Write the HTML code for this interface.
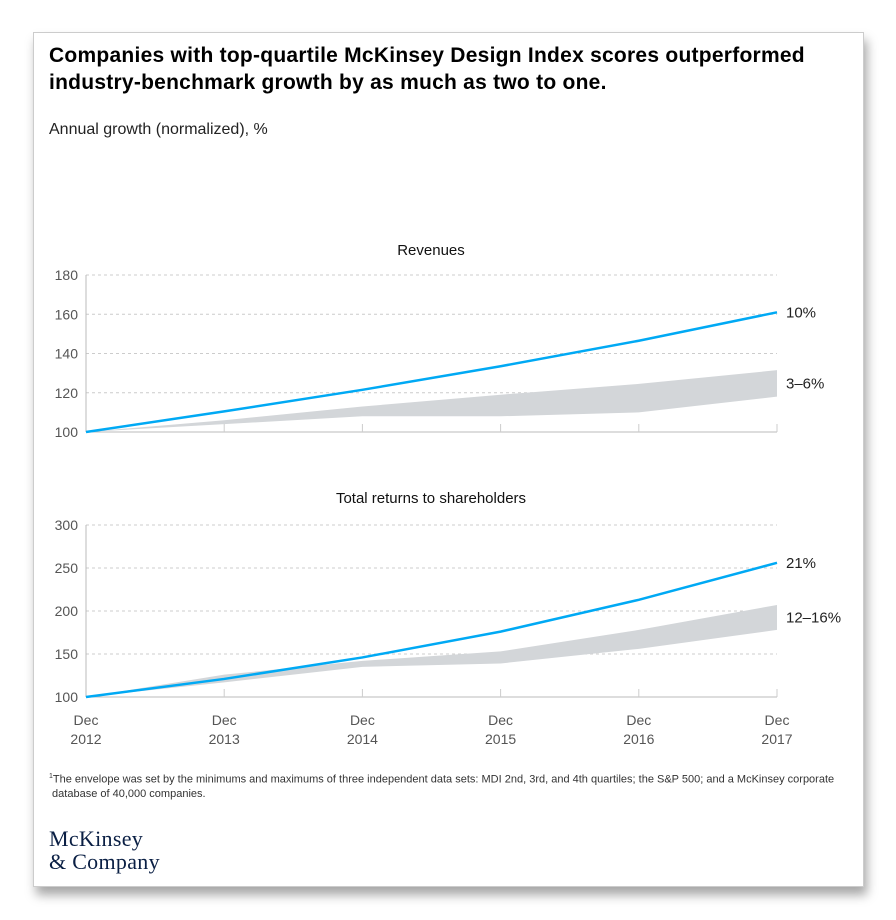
<!DOCTYPE html>
<html><head><meta charset="utf-8"><style>
body{margin:0;width:896px;height:920px;background:#fff;font-family:"Liberation Sans",sans-serif;position:relative;overflow:hidden}
#card{position:absolute;left:33px;top:32px;width:829px;height:853px;border:1px solid #ccc;box-shadow:3px 8px 10px rgba(0,0,0,.35);background:#fff}
.t{position:absolute;white-space:nowrap}
</style></head><body>
<div id="card"></div>
<div class="t" style="left:49px;top:42px;font-size:21px;font-weight:bold;line-height:27px;color:#000;letter-spacing:0.25px">Companies with top-quartile McKinsey Design Index scores outperformed<br>industry-benchmark growth by as much as two to one.</div>
<div class="t" style="left:49px;top:121px;font-size:16px;color:#222">Annual growth (normalized), %</div>
<svg id="svg" width="896" height="920" style="position:absolute;left:0;top:0"></svg>
<div class="t" style="left:49px;top:770px;font-size:11px;line-height:14px;color:#333"><sup style="font-size:7px">1</sup>The envelope was set by the minimums and maximums of three independent data sets: MDI 2nd, 3rd, and 4th quartiles; the S&amp;P 500; and a McKinsey corporate<br>&nbsp;database of 40,000 companies.</div>
<div class="t" style="left:49px;top:827px;font-family:'Liberation Serif',serif;font-size:22px;line-height:23px;color:#0a1f44;letter-spacing:0.3px">McKinsey<br>&amp; Company</div>
<script>
const years=["2012","2013","2014","2015","2016","2017"];
const revBlue=[100,110.5,121.5,133.5,146.5,161];
const revUpper=[100,106,113,119,124.5,131.5];
const revLower=[100,104,108,108,110,118];
const revTicks=[100,120,140,160,180];
const trsBlue=[100,121,146,176,213,256];
const trsUpper=[100,126,142,153,178,207];
const trsLower=[100,117,135,139,156,178];
const trsTicks=[100,150,200,250,300];
const NS="http://www.w3.org/2000/svg";
const svg=document.getElementById('svg');
function mk(tag,attrs,parent){const e=document.createElementNS(NS,tag);for(const k in attrs)e.setAttribute(k,attrs[k]);(parent||svg).appendChild(e);return e;}
const x0=86,x1=777;
function xs(i){return x0+(x1-x0)*i/(years.length-1);}
function chart(name,title,titleY,top,bot,ticks,blue,upper,lower,label,bandLabel,showX){
  const mn=ticks[0],mx=ticks[ticks.length-1];
  const ys=v=>bot-(v-mn)/(mx-mn)*(bot-top);
  const g=mk('g',{});
  
  
  const tt=mk('text',{x:431,y:titleY,'text-anchor':'middle','font-size':15,fill:'#111'},g);tt.textContent=title;
  
  
  ticks.forEach(t=>{
    if(t!==mn){const l=mk('line',{x1:x0,x2:x1,y1:ys(t),y2:ys(t),stroke:'#ccc','stroke-dasharray':'3,3'},g);
    
    }
    const tx=mk('text',{x:78,y:ys(t)+5,'text-anchor':'end','font-size':14,fill:'#555'},g);tx.textContent=t;
    
    
  });
  mk('line',{x1:x0,x2:x0,y1:top,y2:bot,stroke:'#bbb'},g);
  mk('line',{x1:x0,x2:x1,y1:bot,y2:bot,stroke:'#bbb'},g);
  years.forEach((y,i)=>{ if(i>0) mk('line',{x1:xs(i),x2:xs(i),y1:bot-8,y2:bot,stroke:'#ccc'},g);
    if(showX){const a=mk('text',{x:xs(i),y:bot+28,'text-anchor':'middle','font-size':14,fill:'#555'},g);a.textContent='Dec';
      
      
      const b=mk('text',{x:xs(i),y:bot+47,'text-anchor':'middle','font-size':14,fill:'#555'},g);b.textContent=y;
      
      }
  });
  let d=upper.map((v,i)=>(i?'L':'M')+xs(i)+','+ys(v)).join('');
  for(let i=lower.length-1;i>=0;i--)d+='L'+xs(i)+','+ys(lower[i]);
  const band=mk('path',{d:d+'Z',fill:'#d3d6d9'},g);
  
  
  const line=mk('polyline',{points:blue.map((v,i)=>xs(i)+','+ys(v)).join(' '),fill:'none',stroke:'#00a9f4','stroke-width':2.5},g);
  
  
  const n=blue.length-1;
  const l1=mk('text',{x:786,y:ys(blue[n])+5,'font-size':15,fill:'#222'},g);l1.textContent=label;
  
  
  const l2=mk('text',{x:786,y:ys((upper[n]+lower[n])/2)+5,'font-size':15,fill:'#222'},g);l2.textContent=bandLabel;
  
  
}
chart('revenues','Revenues',255,275,432,revTicks,revBlue,revUpper,revLower,'10%','3\u20136%',false);
chart('tsr','Total returns to shareholders',503,525,697,trsTicks,trsBlue,trsUpper,trsLower,'21%','12\u201316%',true);
</script>
</body></html>
